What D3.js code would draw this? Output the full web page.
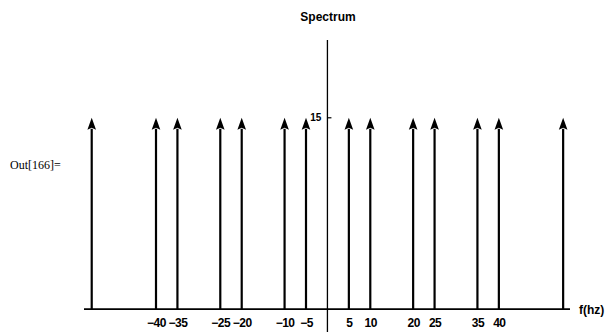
<!DOCTYPE html>
<html>
<head>
<meta charset="utf-8">
<script src="https://cdn.jsdelivr.net/npm/d3@7"></script>
<style>
  html, body { margin: 0; padding: 0; background: #fff; }
  svg { display: block; }
  text { fill: #000; }
</style>
</head>
<body>
<script>
// Line spectrum: impulse frequencies (Hz) and their magnitudes
const frequencies = [-55, -40, -35, -25, -20, -10, -5, 5, 10, 20, 25, 35, 40, 55];
const magnitudes  = [15, 15, 15, 15, 15, 15, 15, 15, 15, 15, 15, 15, 15, 15];
const xTickValues = [-40, -35, -25, -20, -10, -5, 5, 10, 20, 25, 35, 40];
const yTickValues = [15];

const W = 613, H = 334;
const svg = d3.select("body").append("svg").attr("width", W).attr("height", H);

const x = d3.scaleLinear().domain([-56.8, 56.6]).range([84, 570]);
const y = d3.scaleLinear().domain([-1.8, 21.1]).range([332, 40]);

const tickFont = "'Liberation Sans', Arial, sans-serif";
const fmt = v => v < 0 ? "\u2212" + Math.abs(v) : String(v);

// Title
svg.append("text")
  .attr("x", 328).attr("y", 21)
  .attr("text-anchor", "middle")
  .style("font-family", tickFont).style("font-weight", "bold").style("font-size", "12px")
  .text("Spectrum");

// Output cell label
svg.append("text")
  .attr("x", 10).attr("y", 169)
  .style("font-family", "'Liberation Serif', 'Times New Roman', serif").style("font-size", "12px")
  .text("Out[166]=");

// Horizontal axis line
svg.append("line")
  .attr("x1", x.range()[0]).attr("x2", x.range()[1])
  .attr("y1", y(0)).attr("y2", y(0))
  .attr("stroke", "#000").attr("stroke-width", 1.8);

// Vertical axis line
svg.append("line")
  .attr("x1", x(0)).attr("x2", x(0))
  .attr("y1", y.range()[1]).attr("y2", y.range()[0])
  .attr("stroke", "#000").attr("stroke-width", 1.3);

// x tick labels
const xAxis = d3.axisBottom(x).tickValues(xTickValues).tickFormat(fmt).tickSize(0).tickPadding(9);
const gx = svg.append("g").attr("transform", `translate(0,${y(0)})`).call(xAxis);
gx.select(".domain").remove();
gx.selectAll("text")
  .style("font-family", tickFont).style("font-weight", "bold").style("font-size", "12px")
  .style("letter-spacing", "-0.5px")
  .attr("fill", "#000");

// y tick (marks to the right of the axis, label to the left)
const gy = svg.append("g").attr("transform", `translate(${x(0)},0)`);
gy.selectAll("line.tk").data(yTickValues).join("line")
  .attr("class", "tk")
  .attr("x1", 0).attr("x2", 4)
  .attr("y1", d => y(d)).attr("y2", d => y(d))
  .attr("stroke", "#000").attr("stroke-width", 1.2);
gy.selectAll("text").data(yTickValues).join("text")
  .attr("x", -6).attr("y", d => y(d) + 3)
  .attr("text-anchor", "end")
  .style("font-family", tickFont).style("font-weight", "bold").style("font-size", "10px")
  .text(d => d);

// Axis label on the right
svg.append("text")
  .attr("x", 579).attr("y", y(0) + 5)
  .style("font-family", tickFont).style("font-weight", "bold").style("font-size", "12px")
  .text("f(hz)");

// Impulses drawn as arrows
const headLen = 12, headHalf = 4.3;
const imp = svg.append("g").selectAll("g").data(frequencies.map((f, i) => ({ f, m: magnitudes[i] })))
  .join("g");
imp.append("line")
  .attr("x1", d => x(d.f)).attr("x2", d => x(d.f))
  .attr("y1", y(0)).attr("y2", d => y(d.m) + headLen - 1)
  .attr("stroke", "#000").attr("stroke-width", 2.2);
imp.append("path")
  .attr("d", d => {
    const cx = x(d.f), ty = y(d.m);
    return `M${cx},${ty} L${cx + headHalf},${ty + headLen} L${cx},${ty + headLen - 2} L${cx - headHalf},${ty + headLen} Z`;
  })
  .attr("fill", "#000");
</script>
</body>
</html>
